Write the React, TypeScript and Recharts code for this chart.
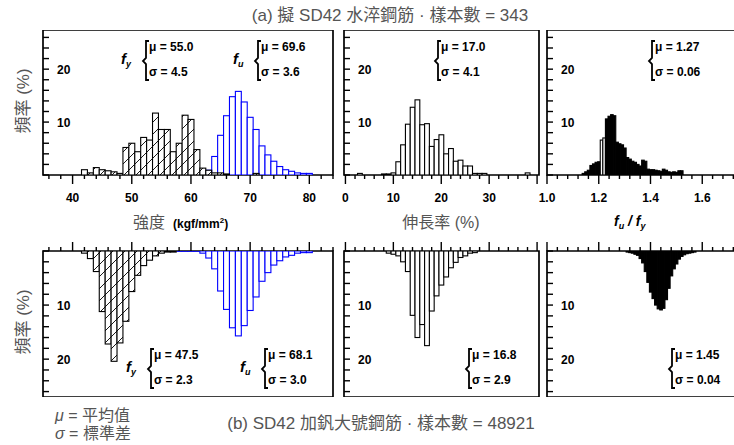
import React from 'react';
import { BarChart, Bar, XAxis, YAxis, ReferenceArea, Cell } from 'recharts';

const FONT = "'Liberation Sans', Arial, 'Noto Sans CJK TC', sans-serif";
const GRAY = '#555';
const BLUE = '#0000ff';

// strength histograms (kgf/mm2), 1-unit bins centred on the value
const strengthBins = [41, 42, 43, 44, 45, 46, 47, 48, 49, 50, 51, 52, 53, 54, 55, 56, 57, 58, 59, 60, 61, 62, 63, 64, 65, 66, 67, 68, 69, 70, 71, 72, 73, 74, 75, 76, 77, 78, 79, 80, 81];
const topYield = [0, 1.0, 0.4, 1.4, 1.0, 0.8, 0.6, 0.3, 5.2, 6.0, 4.4, 7.1, 6.6, 11.7, 8.6, 8.6, 4.4, 6.0, 11.3, 10.5, 4.8, 1.3, 0.9, 0.4, 0.4, 0.2, 0, 0, 0, 0, 0.3, 0, 0, 0, 0, 0, 0, 0, 0, 0, 0];
const topTensile = [0, 0, 0, 0, 0, 0, 0, 0, 0, 0, 0, 0, 0, 0, 0, 0, 0, 0, 0, 0, 0, 0.4, 0.9, 3.5, 7.5, 11.2, 14.8, 15.8, 13.8, 10.9, 8.6, 5.5, 3.8, 2.6, 1.6, 1.0, 0.7, 0.4, 0.3, 0.3, 0];
const botYield = [0, 0.4, 1.4, 3.8, 11.2, 17.2, 20.4, 17.0, 13.0, 7.5, 4.5, 2.7, 1.7, 0.9, 0.4, 0.2, 0.2, 0, 0, 0, 0, 0, 0, 0, 0, 0, 0, 0, 0, 0, 0, 0, 0, 0, 0, 0, 0, 0, 0, 0, 0];
const botTensile = [0, 0, 0, 0, 0, 0, 0, 0, 0, 0, 0, 0, 0.05, 0.05, 0.05, 0.05, 0.05, 0.05, 0.05, 0.05, 0.05, 0.4, 1.3, 3.3, 7.4, 10.8, 14.2, 15.7, 13.8, 11.0, 8.5, 5.6, 4.0, 2.6, 1.8, 1.1, 0.8, 0.4, 0.3, 0.3, 0];

// elongation (%)
const elongBins = [0, 1, 2, 3, 4, 5, 6, 7, 8, 9, 10, 11, 12, 13, 14, 15, 16, 17, 18, 19, 20, 21, 22, 23, 24, 25, 26, 27, 28, 29, 30, 31, 32, 33, 34, 35, 36, 37, 38, 39, 40];
const elongTop = [0, 0, 0, 0.3, 0, 0, 0, 0, 0.2, 0.2, 0.4, 2.5, 5.7, 9.6, 12.8, 14.2, 9.5, 9.7, 5.4, 6.7, 7.6, 4.0, 5.0, 2.6, 2.8, 1.7, 1.7, 0.3, 0.3, 0.3, 0, 0, 0, 0, 0, 0, 0, 0, 0.4, 0, 0];
const elongBot = [0, 0, 0, 0, 0, 0, 0, 0, 0, 0.4, 0.6, 0.9, 2.0, 3.8, 11.9, 16.0, 13.6, 17.5, 11.1, 8.3, 6.3, 4.8, 3.1, 2.1, 1.2, 0.9, 0.4, 0.3, 0, 0, 0, 0, 0, 0, 0, 0, 0, 0, 0, 0, 0];

// tensile / yield ratio, 0.01 bins
const ratioTopBins = [1.14, 1.15, 1.16, 1.17, 1.18, 1.19, 1.2, 1.21, 1.22, 1.23, 1.24, 1.25, 1.26, 1.27, 1.28, 1.29, 1.3, 1.31, 1.32, 1.33, 1.34, 1.35, 1.36, 1.37, 1.38, 1.39, 1.4, 1.41, 1.42, 1.43, 1.44, 1.45, 1.46, 1.47, 1.48, 1.49, 1.5, 1.51, 1.52];
const ratioTop = [0.3, 0.6, 0.9, 1.8, 2.1, 2.4, 2.5, 6.6, 7.0, 10.6, 11.1, 11.4, 11.2, 6.2, 5.9, 5.7, 5.1, 3.3, 3.0, 2.6, 2.4, 2.0, 1.7, 2.8, 2.6, 1.1, 1.0, 1.0, 0.9, 0.8, 0.7, 1.1, 0.9, 0.6, 0.5, 0.6, 0.5, 0.8, 0.8];
const ratioBotBins = [1.31, 1.32, 1.33, 1.34, 1.35, 1.36, 1.37, 1.38, 1.39, 1.4, 1.41, 1.42, 1.43, 1.44, 1.45, 1.46, 1.47, 1.48, 1.49, 1.5, 1.51, 1.52, 1.53, 1.54, 1.55, 1.56, 1.57];
const ratioBot = [0.2, 0.3, 0.4, 0.6, 0.8, 1.4, 2.2, 3.8, 5.8, 7.6, 8.8, 10.0, 10.7, 10.9, 10.6, 9.0, 6.9, 4.6, 3.3, 2.4, 1.5, 1.0, 0.7, 0.5, 0.4, 0.3, 0.2];
const hollowRatioTop = [1.21, 1.22];

// axis ticks
const strengthTicks = [36, 38, 40, 42, 44, 46, 48, 50, 52, 54, 56, 58, 60, 62, 64, 66, 68, 70, 72, 74, 76, 78, 80, 82, 84];
const strengthMajor = [40, 50, 60, 70, 80];
const elongTicks = [0, 2, 4, 6, 8, 10, 12, 14, 16, 18, 20, 22, 24, 26, 28, 30, 32, 34, 36, 38, 40];
const elongMajor = [0, 10, 20, 30, 40];
const elongLabeled = [0, 10, 20, 30];
const ratioTicks = [1.0, 1.04, 1.08, 1.12, 1.16, 1.2, 1.24, 1.28, 1.32, 1.36, 1.4, 1.44, 1.48, 1.52, 1.56, 1.6, 1.64, 1.68, 1.72, 1.76, 1.8];
const ratioMajor = [1.0, 1.2, 1.4, 1.6, 1.8];
const ratioLabeled = [1.0, 1.2, 1.4, 1.6];
const freqTicks = [0, 2, 4, 6, 8, 10, 12, 14, 16, 18, 20, 22, 24, 26];
const freqLabeled = [10, 20];

const PAD_L = 14;
const PAD_R = 8;

const near = (a: number, list: number[]) => list.some((b) => Math.abs(a - b) < 1e-6);

function makeXTick(flipped: boolean, majors: number[], labeled: number[], digits: number) {
  return (props: any) => {
    const { x, y, payload } = props;
    const v = payload.value;
    const len = near(v, majors) ? 9 : 4;
    const dir = flipped ? -1 : 1;
    return (
      <g>
        <line x1={x} x2={x} y1={y} y2={y + dir * len} stroke="#000" strokeWidth={1.4} />
        {!flipped && near(v, labeled) && (
          <text x={x} y={y + 27} textAnchor="middle" fontFamily={FONT} fontSize={12} fontWeight="bold" fill="#000">
            {v.toFixed(digits)}
          </text>
        )}
      </g>
    );
  };
}

const yTick = (props: any) => {
  const { x, y, payload } = props;
  const v = payload.value;
  return (
    <g>
      <line x1={x} x2={x + 6} y1={y} y2={y} stroke="#000" strokeWidth={1.4} />
      {near(v, freqLabeled) && (
        <text x={x + 14} y={y + 4.5} fontFamily={FONT} fontSize={12} fontWeight="bold" fill="#000">
          {v}
        </text>
      )}
    </g>
  );
};

function binShape(binPx: number) {
  return (props: any) => {
    const { x, y, width, height, fill, stroke, strokeWidth } = props;
    if (!height || !isFinite(height) || !isFinite(x)) return <g />;
    const top = Math.min(y, y + height);
    const cx = x + width / 2;
    return <rect x={cx - binPx / 2} y={top} width={binPx} height={Math.abs(height)} fill={fill} stroke={stroke} strokeWidth={strokeWidth} />;
  };
}

type Series = { key: string; values: number[]; stroke: string; fill: string; hollow?: number[] };

type PanelProps = {
  left: number;
  top: number;
  width: number;
  height: number;
  flipped: boolean;
  bins: number[];
  binWidth: number;
  series: Series[];
  xDomain: [number, number];
  xTicks: number[];
  xMajor: number[];
  xLabeled: number[];
  digits: number;
  yMax: number;
  hatchId?: string;
};

function Panel(p: PanelProps) {
  const axisH = p.flipped ? 12 : 30;
  const data = p.bins.map((b, i) => {
    const row: Record<string, number> = { bin: b };
    p.series.forEach((s) => (row[s.key] = s.values[i]));
    return row;
  });
  const binPx = (p.width * p.binWidth) / (p.xDomain[1] - p.xDomain[0]);
  const tick = makeXTick(p.flipped, p.xMajor, p.xLabeled, p.digits);
  return (
    <div style={{ position: 'absolute', left: p.left - PAD_L, top: p.flipped ? p.top - axisH : p.top }}>
      <BarChart
        width={p.width + PAD_L + PAD_R}
        height={p.height + axisH}
        data={data}
        margin={{ top: 0, right: PAD_R, bottom: 0, left: PAD_L }}
        barCategoryGap={0}
        barGap={0}
      >
        {p.hatchId && (
          <defs>
            <pattern id={p.hatchId} patternUnits="userSpaceOnUse" width={12} height={12}>
              <rect width={12} height={12} fill="#fff" />
              <path d="M-3,3 L3,-3 M0,12 L12,0 M9,15 L15,9" stroke="#000" strokeWidth={0.9} />
            </pattern>
          </defs>
        )}
        {p.series.map((s, i) => (
          <XAxis
            key={'x' + s.key}
            xAxisId={'x' + i}
            type="number"
            scale="linear"
            dataKey="bin"
            domain={p.xDomain}
            allowDataOverflow
            hide={i > 0}
            orientation={p.flipped ? 'top' : 'bottom'}
            height={axisH}
            ticks={p.xTicks}
            interval={0}
            tick={tick}
            tickLine={false}
            axisLine={false}
            tickSize={0}
            tickMargin={0}
          />
        ))}
        <YAxis
          type="number"
          domain={[0, p.yMax]}
          allowDataOverflow
          reversed={p.flipped}
          mirror
          ticks={freqTicks}
          interval={0}
          tick={yTick}
          tickLine={false}
          axisLine={false}
          tickSize={0}
          tickMargin={0}
        />
        {p.series.map((s, i) => (
          <Bar key={s.key} xAxisId={'x' + i} dataKey={s.key} fill={s.fill} stroke={s.stroke} strokeWidth={1.1} shape={binShape(binPx)} isAnimationActive={false}>
            {s.hollow && data.map((d, j) => <Cell key={j} fill={near(d.bin, s.hollow!) ? '#fff' : s.fill} />)}
          </Bar>
        ))}
        <ReferenceArea xAxisId="x0" x1={p.xDomain[0]} x2={p.xDomain[1]} y1={0} y2={p.yMax} fill="none" stroke="#000" strokeWidth={1.7} ifOverflow="visible" />
      </BarChart>
    </div>
  );
}

function Stats({ x, y, mu, sigma, f }: { x: number; y: number; mu: string; sigma: string; f?: string }) {
  return (
    <g fontFamily={FONT} fontWeight="bold" fontSize={12} fill="#000">
      {f && (
        <text x={x - 23} y={y + 23} fontStyle="italic" fontSize={15}>
          f<tspan fontSize={9} dy={3}>{f}</tspan>
        </text>
      )}
      <path
        d={`M${x + 5},${y} L${x + 2},${y} L${x + 2},${y + 17} L${x - 1},${y + 20} L${x + 2},${y + 23} L${x + 2},${y + 39} L${x + 5},${y + 39}`}
        fill="none"
        stroke="#000"
        strokeWidth={1.8}
      />
      <text x={x + 5} y={y + 10}>μ = {mu}</text>
      <text x={x + 5} y={y + 35}>σ = {sigma}</text>
    </g>
  );
}

const TOP = { top: 30, height: 145, yMax: 27.4, flipped: false };
const BOT = { top: 251, height: 146, yMax: 27, flipped: true };
const STRENGTH = { left: 43, width: 290, bins: strengthBins, binWidth: 1, xDomain: [35, 84] as [number, number], xTicks: strengthTicks, xMajor: strengthMajor, xLabeled: strengthMajor, digits: 0 };
const ELONG = { left: 344, width: 195, bins: elongBins, binWidth: 1, xDomain: [-0.3, 40.4] as [number, number], xTicks: elongTicks, xMajor: elongMajor, xLabeled: elongLabeled, digits: 0 };
const RATIO = { left: 547, width: 207, binWidth: 0.01, xDomain: [1.0, 1.8] as [number, number], xTicks: ratioTicks, xMajor: ratioMajor, xLabeled: ratioLabeled, digits: 1 };

export default function App() {
  return (
    <div style={{ position: 'absolute', left: 0, top: 0, width: 734, height: 445, overflow: 'hidden', background: '#fff' }}>
      <Panel
        {...TOP}
        {...STRENGTH}
        hatchId="hatchTop"
        series={[
          { key: 'fu', values: topTensile, stroke: BLUE, fill: '#fff' },
          { key: 'fy', values: topYield, stroke: '#000', fill: 'url(#hatchTop)' },
        ]}
      />
      <Panel {...TOP} {...ELONG} series={[{ key: 'el', values: elongTop, stroke: '#000', fill: '#fff' }]} />
      <Panel {...TOP} {...RATIO} bins={ratioTopBins} series={[{ key: 'r', values: ratioTop, stroke: '#000', fill: '#000', hollow: hollowRatioTop }]} />
      <Panel
        {...BOT}
        {...STRENGTH}
        hatchId="hatchBot"
        series={[
          { key: 'fu', values: botTensile, stroke: BLUE, fill: '#fff' },
          { key: 'fy', values: botYield, stroke: '#000', fill: 'url(#hatchBot)' },
        ]}
      />
      <Panel {...BOT} {...ELONG} series={[{ key: 'el', values: elongBot, stroke: '#000', fill: '#fff' }]} />
      <Panel {...BOT} {...RATIO} bins={ratioBotBins} series={[{ key: 'r', values: ratioBot, stroke: '#000', fill: '#000' }]} />

      <svg width={734} height={445} style={{ position: 'absolute', left: 0, top: 0, pointerEvents: 'none' }}>
        <g fontFamily={FONT} fill={GRAY}>
          <text x={390} y={21} textAnchor="middle" fontSize={17}>(a) 擬 SD42 水淬鋼筋 · 樣本數 = 343</text>
          <text x={381} y={429} textAnchor="middle" fontSize={17}>(b) SD42 加釩大號鋼筋 · 樣本數 = 48921</text>
          <text transform="translate(29,101) rotate(-90)" textAnchor="middle" fontSize={17}>頻率 (%)</text>
          <text transform="translate(29,322) rotate(-90)" textAnchor="middle" fontSize={17}>頻率 (%)</text>
          <text x={133} y={228} fontSize={16}>
            強度
            <tspan dx={8} fill="#000" fontWeight="bold" fontSize={12}>(kgf/mm</tspan>
            <tspan fill="#000" fontWeight="bold" fontSize={8} dy={-5}>2</tspan>
            <tspan fill="#000" fontWeight="bold" fontSize={12} dy={5}>)</tspan>
          </text>
          <text x={441} y={228} textAnchor="middle" fontSize={16}>伸長率 (%)</text>
          <text x={55} y={421} fontSize={16}>
            <tspan fontStyle="italic">μ</tspan> = 平均值
          </text>
          <text x={55} y={439} fontSize={16}>
            <tspan fontStyle="italic">σ</tspan> = 標準差
          </text>
        </g>
        <text x={614} y={226} fontFamily={FONT} fontWeight="bold" fontStyle="italic" fontSize={14} fill="#000">
          f<tspan fontSize={9} dy={3}>u</tspan>
          <tspan dy={-3}> / f</tspan>
          <tspan fontSize={9} dy={3}>y</tspan>
        </text>
        <Stats x={144} y={41} f="y" mu="55.0" sigma="4.5" />
        <Stats x={256} y={41} f="u" mu="69.6" sigma="3.6" />
        <Stats x={436} y={41} mu="17.0" sigma="4.1" />
        <Stats x={650} y={41} mu="1.27" sigma="0.06" />
        <Stats x={149} y={349} f="y" mu="47.5" sigma="2.3" />
        <Stats x={263} y={349} f="u" mu="68.1" sigma="3.0" />
        <Stats x={467} y={349} mu="16.8" sigma="2.9" />
        <Stats x={670} y={349} mu="1.45" sigma="0.04" />
      </svg>
    </div>
  );
}
